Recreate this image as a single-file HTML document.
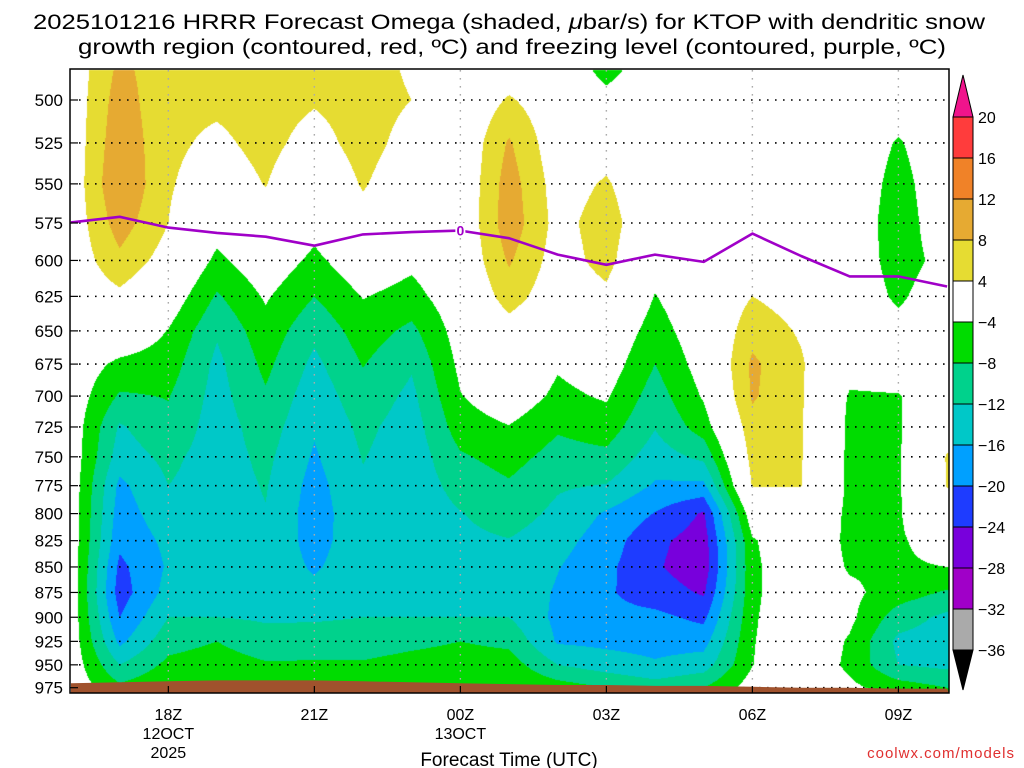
<!DOCTYPE html>
<html><head><meta charset="utf-8">
<style>
html,body{margin:0;padding:0;background:#fff;}
#wrap{position:relative;width:1024px;height:768px;overflow:hidden;font-family:"Liberation Sans",sans-serif;}
canvas{position:absolute;left:0;top:0;}
svg{position:absolute;left:0;top:0;}
</style></head>
<body>
<div id="wrap">
<canvas id="field" width="1024" height="768"></canvas>
<svg id="ov" width="1024" height="768" xmlns="http://www.w3.org/2000/svg">
<text x="509" y="29" text-anchor="middle" font-size="21" textLength="952" lengthAdjust="spacingAndGlyphs">2025101216 HRRR Forecast Omega (shaded, <tspan font-style="italic">μ</tspan>bar/s) for KTOP with dendritic snow</text>
<text x="512" y="54" text-anchor="middle" font-size="21" textLength="868" lengthAdjust="spacingAndGlyphs">growth region (contoured, red, ºC) and freezing level (contoured, purple, ºC)</text>
<text x="509" y="766" text-anchor="middle" font-size="19">Forecast Time (UTC)</text>
<text x="1015" y="758" text-anchor="end" font-size="15" fill="#e03030" letter-spacing="1">coolwx.com/models</text>
<g id="gridg"></g>
<g id="groundg"></g>
<g id="frzg"></g>
<g id="axesg"></g>
<g id="cbarg"></g>
</svg>
</div>
<script>
// ---- data ----
const hours = [16,17,18,19,20,21,22,23,24,25,26,27,28,29,30,31,32,33,34];
const levels = [475,500,525,550,575,600,625,650,675,700,725,750,775,800,825,850,875,900,925,950,975,1000];
const omegaH16 = [1,1,1,1,1,1,0.5,0,-1,-1.2,-1.2,-1.2,-1.2,-1.2,-1.2,-1.2,-1.2,-1.2,-1.2,-1.2,-1,0];
const omegaH17 = [8.5,10,11,12,10,7,3,0,-5,-8.5,-12.5,-14,-17,-18,-19,-21,-22,-20,-17,-12,-7,-2];
const omegaH18 = [6,5,5,4.5,4,2,-1,-4.2,-6,-7.8,-9,-11,-12,-13.5,-15,-15.5,-14.5,-12,-9.5,-7,-4.5,-1];
const omegaH19 = [5,5,3,1,-2,-5,-8.5,-11.5,-13,-13.5,-14,-14,-14,-14,-14.5,-14.5,-14,-12,-8,-6,-4,-1];
const omegaH20 = [6,6,5.5,4.2,2,-1,-3.5,-5.5,-7,-8.5,-10,-11,-11.7,-12.2,-13,-13.5,-13.5,-12.5,-10.5,-7.5,-4.5,-1];
const omegaH21 = [6,4.5,2,-1,-2.5,-5,-8,-11,-13,-14.5,-15.5,-16.5,-17.5,-18,-17.5,-16.5,-15,-12.5,-10,-7.5,-4.5,-1];
const omegaH22 = [6,6,6,4.5,2,-1,-3.8,-6,-7.8,-9.5,-11,-11.8,-12.5,-13,-13.5,-13.5,-13,-12,-10,-7.5,-4.5,-1];
const omegaH23 = [3,4,2,0,-1.5,-3,-5.5,-9,-11.5,-13,-14,-14.5,-14.5,-14.5,-14.5,-14,-13.5,-12,-9,-6.5,-4.5,-1];
const omegaH24 = [0,0,0,0,0,0,-1,-2,-3,-4.2,-6,-8.5,-10.5,-12.2,-13,-13.5,-13,-12,-8,-6,-4.2,-1];
const omegaH25 = [0,4.5,8.5,10,10.5,8.5,6,2,1,-1,-4.2,-6.5,-8.5,-10,-12.2,-12.5,-13,-12,-9,-6,-4.2,-1];
const omegaH26 = [1,1,1,2,2.5,2,1,-1,-3.5,-5,-7.5,-9.5,-11.5,-13,-14.5,-15.8,-16.5,-17,-16.5,-12,-6,-1];
const omegaH27 = [-8,-2,2,4.5,6,5.5,3,0,-1.5,-3.5,-6,-9,-12.2,-16.5,-18,-19,-19.5,-19,-17,-14,-8,-1];
const omegaH28 = [0,0,0,0,0,-2,-4.2,-6,-8,-10,-11.8,-14,-16.5,-20.2,-23,-23.5,-22,-19,-17.5,-15.5,-10,-2];
const omegaH29 = [0,0,0,0,0,0,0,-1,-2,-3.5,-6,-11,-17,-24.5,-26,-26.5,-24.5,-21,-17.5,-14,-8,-2];
const omegaH30 = [0,0,0,0,0,1,4,6.5,8.8,8.5,6.5,5.5,4.3,-1,-4.5,-5,-5,-4.6,-4.3,-4.1,-2,0];
const omegaH31 = [0,0,0,0,0,0,2,3.5,4.5,4.5,4.4,4.3,4.1,1,0,0,0,0,0,0,0,0];
const omegaH32 = [0,0,0,0,0,0,0,0,-2,-4.5,-5,-5,-5,-5,-5,-4.5,-3,-3,-4.5,-5,-3,0];
const omegaH33 = [0,-1,-4.5,-6,-7,-6.5,-5,-2,-1,-4.3,-4.5,-4.5,-4.5,-4.5,-4.5,-4.5,-6,-10,-13,-12,-6,-1];
const omegaH34 = [0,0,0,0,0,-2,0,0,0,0,2,4.3,4.2,2,-2,-4,-8.5,-13,-14,-13,-8,-3];
const freezingLevel = [574.6,571,578,581.5,584,590,582.5,581,580,585,596,603,596,601,582,597,611,611,618];
const surfacePressure = [970,969,968,967,967,967,968,969,970,971,972,972,973,973,974,975,975,976,976];
const pressureTicks = [500,525,550,575,600,625,650,675,700,725,750,775,800,825,850,875,900,925,950,975];
const timeTickHours = [18,21,24,27,30,33];
const timeTickLabels = ["18Z","21Z","00Z","03Z","06Z","09Z"];
const timeTickSub = [["12OCT","2025"],[],["13OCT"],[],[],[]];
const cbarLevels = [20,16,12,8,4,-4,-8,-12,-16,-20,-24,-28,-32,-36];
const cbarColors = ["#f0148c","#ff3c3c","#f08228","#e6aa32","#e6dc32","#ffffff","#00dc00","#00d28c","#00c8c8","#00a0ff","#1e3cff","#7800dc","#a000c8","#aaaaaa","#000000"];

const omega = [omegaH16,omegaH17,omegaH18,omegaH19,omegaH20,omegaH21,omegaH22,omegaH23,omegaH24,omegaH25,omegaH26,omegaH27,omegaH28,omegaH29,omegaH30,omegaH31,omegaH32,omegaH33,omegaH34];

// ---- axes ----
const PX0=71, PX1=949, PY0=70, PY1=693, HPX=48.67;
function xOf(h){return PX0+(h-16)*HPX;}
function hOf(x){return 16+(x-PX0)/HPX;}
function yOf(p){return 100+880*Math.log(p/500);}
function pOf(y){return 500*Math.exp((y-100)/880);}
function colorFor(v){
  for(let i=0;i<cbarLevels.length;i++){ if(v>cbarLevels[i]) return cbarColors[i]; }
  return cbarColors[cbarColors.length-1];
}
function sample(h,p){
  let fi=(h-hours[0]); fi=Math.max(0,Math.min(hours.length-1.0001,fi));
  let fj=(p-levels[0])/25; fj=Math.max(0,Math.min(levels.length-1.0001,fj));
  const i=Math.floor(fi), j=Math.floor(fj), a=fi-i, b=fj-j;
  const v00=omega[i][j], v10=omega[i+1][j], v01=omega[i][j+1], v11=omega[i+1][j+1];
  return (v00*(1-a)+v10*a)*(1-b)+(v01*(1-a)+v11*a)*b;
}
const cv=document.getElementById('field'), ctx=cv.getContext('2d');
const img=ctx.createImageData(PX1-PX0,PY1-PY0);
function hex(c){return [parseInt(c.substr(1,2),16),parseInt(c.substr(3,2),16),parseInt(c.substr(5,2),16)];}
const cache={};
for(let y=PY0;y<PY1;y++){
  const p=pOf(y+0.5);
  for(let x=PX0;x<PX1;x++){
    const v=sample(hOf(x+0.5),p);
    const c=colorFor(v); const rgb=cache[c]||(cache[c]=hex(c));
    const k=((y-PY0)*(PX1-PX0)+(x-PX0))*4;
    img.data[k]=rgb[0];img.data[k+1]=rgb[1];img.data[k+2]=rgb[2];img.data[k+3]=255;
  }
}
ctx.putImageData(img,PX0,PY0);

const NS="http://www.w3.org/2000/svg";
function mk(tag,attrs,parent){const e=document.createElementNS(NS,tag);for(const k in attrs)e.setAttribute(k,attrs[k]);parent.appendChild(e);return e;}

const gridg=document.getElementById('gridg');
pressureTicks.forEach(p=>{
  const l=mk('line',{x1:PX0+8,x2:PX1,y1:yOf(p),y2:yOf(p),stroke:'#000','stroke-width':1.6,'stroke-dasharray':'1.6 6.4'},gridg);
  
  
});
timeTickHours.forEach((h,i)=>{
  const l=mk('line',{x1:xOf(h),x2:xOf(h),y1:PY0,y2:PY1,stroke:'#aaa','stroke-width':1.4,'stroke-dasharray':'1.6 6.4'},gridg);
  
  
});

const groundg=document.getElementById('groundg');
let gp='M'+PX0+','+PY1;
hours.forEach((h,i)=>{gp+=' L'+Math.min(PX1,xOf(h))+','+yOf(surfacePressure[i]).toFixed(1);});
gp+=' L'+PX1+','+PY1+' Z';
const gr=mk('path',{d:gp,fill:'#a0522d'},groundg);



const frzg=document.getElementById('frzg');
let fp='';
hours.forEach((h,i)=>{fp+=(i?' L':'M')+Math.min(PX1,xOf(h)).toFixed(1)+','+yOf(freezingLevel[i]).toFixed(1);});
const fl=mk('path',{d:fp,fill:'none',stroke:'#a000c8','stroke-width':2.6,'stroke-linejoin':'round'},frzg);


const li=hours.indexOf(24);
const lbg=mk('rect',{x:xOf(24)-5,y:yOf(freezingLevel[li])-8,width:10,height:15,fill:'#fff'},frzg);


const lt=mk('text',{x:xOf(24),y:yOf(freezingLevel[li])+5,'text-anchor':'middle','font-size':14,'font-weight':'bold',fill:'#a000c8'},frzg);
lt.textContent='0';



const axesg=document.getElementById('axesg');
const fr=mk('rect',{x:PX0-1,y:PY0-1,width:PX1-PX0+1,height:PY1-PY0+1,fill:'none',stroke:'#000','stroke-width':1.5},axesg);


pressureTicks.forEach(p=>{
  const y=yOf(p);
  const tk=mk('line',{x1:PX0-1,x2:PX0+7,y1:y,y2:y,stroke:'#000','stroke-width':1.2},axesg);
  
  
  const t=mk('text',{x:63,y:y+6,'text-anchor':'end','font-size':17},axesg);
  t.textContent=String(p);
  
  
});
timeTickHours.forEach((h,i)=>{
  const x=xOf(h);
  const tk=mk('line',{x1:x,x2:x,y1:PY1,y2:PY1-7,stroke:'#000','stroke-width':1.2},axesg);
  
  
  const t=mk('text',{x:x,y:720,'text-anchor':'middle','font-size':16},axesg);
  t.textContent=timeTickLabels[i];
  
  
  timeTickSub[i].forEach((s,k)=>{
    const t2=mk('text',{x:x,y:739+k*19,'text-anchor':'middle','font-size':16},axesg);
    t2.textContent=s;
    
    
  });
});

const cb=document.getElementById('cbarg');
const CBX=953, CBW=20, CBT=117, CBH=41;
const n=cbarLevels.length;
const tri1=mk('path',{d:`M${CBX},${CBT} L${CBX+CBW/2},75 L${CBX+CBW},${CBT} Z`,fill:cbarColors[0],stroke:'#000','stroke-width':1},cb);


for(let i=0;i<n-1;i++){
  const r=mk('rect',{x:CBX,y:CBT+i*CBH,width:CBW,height:CBH,fill:cbarColors[i+1],stroke:'#000','stroke-width':1},cb);
  
  
}
const yb=CBT+(n-1)*CBH;
const tri2=mk('path',{d:`M${CBX},${yb} L${CBX+CBW/2},${yb+40} L${CBX+CBW},${yb} Z`,fill:cbarColors[n],stroke:'#000','stroke-width':1},cb);


cbarLevels.forEach((v,i)=>{
  const t=mk('text',{x:978,y:CBT+i*CBH+6,'font-size':16},cb);
  t.textContent=v<0?'\u2212'+Math.abs(v):String(v);
  
  
});
</script>
</body></html>
